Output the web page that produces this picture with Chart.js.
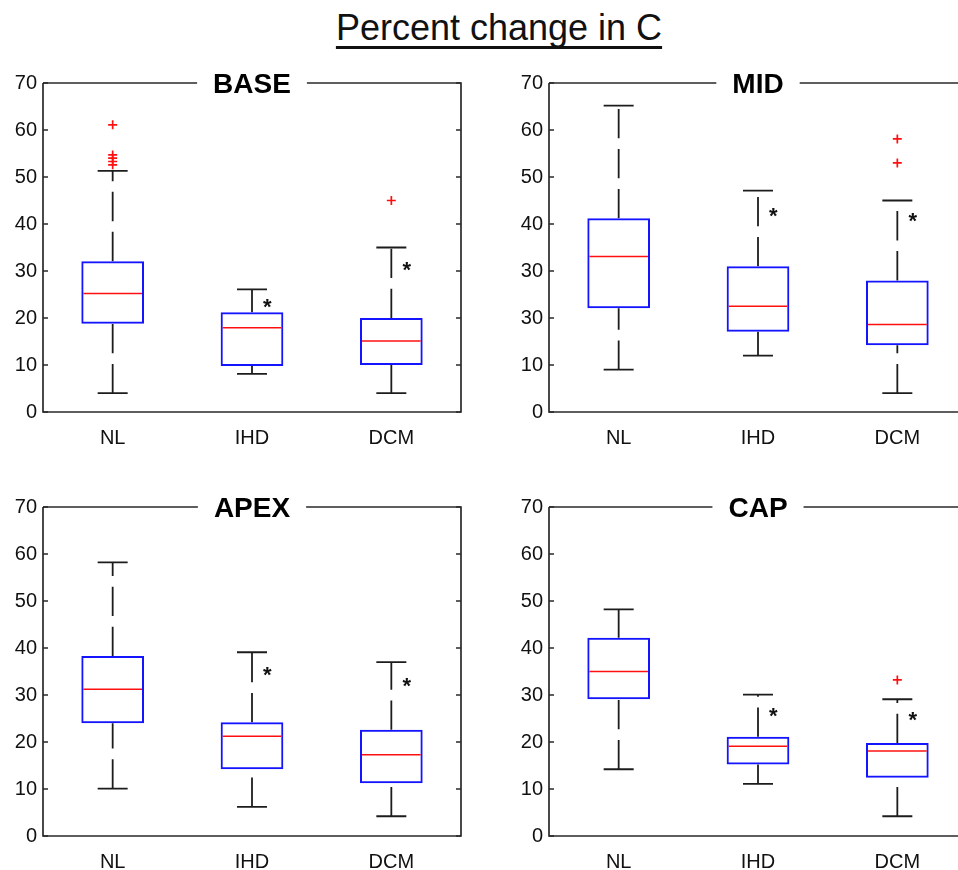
<!DOCTYPE html>
<html>
<head>
<meta charset="utf-8">
<script src="https://cdn.jsdelivr.net/npm/chart.js@4.4.1/dist/chart.umd.min.js"></script>
<style>
  html, body { margin: 0; padding: 0; background: #fff; }
  body {
    width: 958px;
    height: 870px;
    overflow: hidden;
    position: relative;
    font-family: "Liberation Sans", Arial, sans-serif;
  }
  #title {
    position: absolute;
    left: 0;
    top: 7px;
    width: 998px;
    text-align: center;
    font-size: 36px;
    color: #111;
    text-decoration: underline;
    text-decoration-thickness: 3px;
    text-underline-offset: 6px;
    text-decoration-skip-ink: none;
  }
  canvas { position: absolute; }
</style>
</head>
<body>
<div id="title">Percent change in C</div>
<canvas id="baseChart" width="480" height="392" style="left:0;top:60px"></canvas>
<canvas id="midChart" width="480" height="392" style="left:506px;top:60px"></canvas>
<canvas id="apexChart" width="480" height="392" style="left:0;top:484px"></canvas>
<canvas id="capChart" width="480" height="392" style="left:506px;top:484px"></canvas>
<script>
const categories = ["NL", "IHD", "DCM"];
const yTicks = [0, 10, 20, 30, 40, 50, 60, 70];
const tickLabels = ["0", "10", "20", "30", "40", "50", "60", "70"];
const midTickLabels = ["0", "10", "30", "30", "40", "50", "60", "70"]; // as printed in the figure

// BASE
const baseLow = [4, 8.1, 4];
const baseQ1 = [18.8, 9.8, 10];
const baseMedian = [25.2, 17.9, 15.1];
const baseQ3 = [32.1, 21.2, 20];
const baseHigh = [51.3, 26.1, 35];
const baseOutliers = [[61.1, 54.7, 54.0, 53.3, 52.6], [], [45]];
const baseStars = [null, 23.1, 30.9];

// MID
const midLow = [9, 12, 4];
const midQ1 = [22.1, 17.1, 14.2];
const midMedian = [33.1, 22.5, 18.6];
const midQ3 = [41.2, 31, 28];
const midHigh = [65.2, 47.1, 45];
const midOutliers = [[], [], [58.1, 53]];
const midStars = [null, 42.4, 41.4];

// APEX
const apexLow = [10.1, 6.2, 4.2];
const apexQ1 = [24, 14.2, 11.2];
const apexMedian = [31.2, 21.2, 17.3];
const apexQ3 = [38.3, 24.2, 22.6];
const apexHigh = [58.2, 39.1, 37];
const apexOutliers = [[], [], []];
const apexStars = [null, 35.1, 32.7];

// CAP
const capLow = [14.2, 11.1, 4.2];
const capQ1 = [29.1, 15.2, 12.4];
const capMedian = [35, 19.1, 18.1];
const capQ3 = [42.2, 21.1, 19.8];
const capHigh = [48.2, 30.1, 29.1];
const capOutliers = [[], [], [33.2]];
const capStars = [null, 26.2, 25.4];

const FONT = "'Liberation Sans', Arial, sans-serif";
const INK = "#1c1c1c";
Chart.defaults.font.family = FONT;

// whisker line, dashed like matlab, with a cap at one end
function whisker(points, radii) {
  return {
    type: "line",
    data: points,
    borderColor: INK,
    borderWidth: 1.8,
    borderDash: [29.3, 10.7],
    fill: false,
    tension: 0,
    pointStyle: "line",
    pointRadius: radii,
    pointHoverRadius: 0,
    pointBorderColor: INK,
    pointBorderWidth: 1.8,
  };
}

function makePanel(id, title, labels, low, q1, median, q3, high, outliers, stars) {
  const datasets = [];
  datasets.push({
    type: "bar",
    data: q1.map((v, i) => [v, q3[i]]),
    backgroundColor: "rgba(0,0,0,0)",
    borderColor: "#1414ff",
    borderWidth: 2,
    borderSkipped: false,
    barPercentage: 0.45,
    categoryPercentage: 1,
  });
  categories.forEach((cat, i) => {
    datasets.push(whisker([{ x: cat, y: low[i] }, { x: cat, y: q1[i] }], [15, 0]));
    datasets.push(whisker([{ x: cat, y: q3[i] }, { x: cat, y: high[i] }], [0, 15]));
  });
  const outlierPoints = [];
  outliers.forEach((list, i) => {
    list.forEach((v) => outlierPoints.push({ x: categories[i], y: v }));
  });
  datasets.push({
    type: "line",
    data: outlierPoints,
    showLine: false,
    pointStyle: "cross",
    pointRadius: 4.5,
    pointHoverRadius: 0,
    pointBorderColor: "#ff1010",
    pointBorderWidth: 1.7,
  });

  // medians, significance stars, frame with the title set into the top edge
  const decor = {
    id: "decor",
    afterDatasetsDraw(chart) {
      const { ctx, chartArea: a, scales } = chart;
      const x = scales.x;
      const y = scales.y;
      ctx.save();

      ctx.strokeStyle = "#ff1010";
      ctx.lineWidth = 1.5;
      chart.getDatasetMeta(0).data.forEach((bar, i) => {
        const py = y.getPixelForValue(median[i]);
        ctx.beginPath();
        ctx.moveTo(bar.x - bar.width / 2 + 2, py);
        ctx.lineTo(bar.x + bar.width / 2 - 2, py);
        ctx.stroke();
      });

      ctx.fillStyle = "#111";
      ctx.font = "bold 22px " + FONT;
      ctx.textAlign = "center";
      ctx.textBaseline = "alphabetic";
      const step = x.getPixelForValue(1) - x.getPixelForValue(0);
      const m = ctx.measureText("*");
      stars.forEach((v, i) => {
        if (v === null) return;
        const px = x.getPixelForValue(i) + step * 0.11;
        const py = y.getPixelForValue(v) + (m.actualBoundingBoxAscent - m.actualBoundingBoxDescent) / 2;
        ctx.fillText("*", px, py);
      });

      ctx.strokeStyle = "#2a2a2a";
      ctx.lineWidth = 1.7;
      ctx.font = "bold 28px " + FONT;
      const tw = ctx.measureText(title).width;
      const cx = (a.left + a.right) / 2;
      const gap = tw / 2 + 16;
      ctx.beginPath();
      ctx.moveTo(a.left, a.top);
      ctx.lineTo(a.left, a.bottom);
      ctx.lineTo(a.right, a.bottom);
      ctx.lineTo(a.right, a.top);
      ctx.lineTo(cx + gap, a.top);
      ctx.moveTo(cx - gap, a.top);
      ctx.lineTo(a.left, a.top);
      ctx.stroke();

      // inward tick marks on both sides
      ctx.beginPath();
      y.ticks.forEach((t) => {
        const py = y.getPixelForValue(t.value);
        ctx.moveTo(a.left, py);
        ctx.lineTo(a.left + 5, py);
        ctx.moveTo(a.right - 5, py);
        ctx.lineTo(a.right, py);
      });
      ctx.stroke();

      ctx.fillStyle = "#000";
      ctx.textAlign = "center";
      ctx.textBaseline = "middle";
      ctx.fillText(title, cx, a.top + 2);
      ctx.restore();
    },
  };

  return new Chart(document.getElementById(id), {
    type: "bar",
    data: { labels: categories, datasets: datasets },
    options: {
      responsive: false,
      animation: false,
      events: [],
      layout: { padding: { top: 23, right: 19, bottom: 0, left: 0 } },
      plugins: { legend: { display: false }, tooltip: { enabled: false } },
      scales: {
        x: {
          type: "category",
          offset: true,
          grid: { display: false, drawTicks: false },
          border: { display: false },
          ticks: { font: { size: 20 }, color: "#111", padding: 14 },
          afterFit: (s) => { s.height = 40; },
        },
        y: {
          min: 0,
          max: 70,
          grid: { display: false, drawTicks: false },
          border: { display: false },
          afterBuildTicks: (s) => { s.ticks = yTicks.map((v) => ({ value: v })); },
          ticks: {
            font: { size: 20 },
            color: "#111",
            padding: 6,
            callback: (v, i) => labels[i],
          },
          afterFit: (s) => { s.width = 43; },
        },
      },
    },
    plugins: [decor],
  });
}

makePanel("baseChart", "BASE", tickLabels, baseLow, baseQ1, baseMedian, baseQ3, baseHigh, baseOutliers, baseStars);
makePanel("midChart", "MID", midTickLabels, midLow, midQ1, midMedian, midQ3, midHigh, midOutliers, midStars);
makePanel("apexChart", "APEX", tickLabels, apexLow, apexQ1, apexMedian, apexQ3, apexHigh, apexOutliers, apexStars);
makePanel("capChart", "CAP", tickLabels, capLow, capQ1, capMedian, capQ3, capHigh, capOutliers, capStars);
</script>
</body>
</html>
